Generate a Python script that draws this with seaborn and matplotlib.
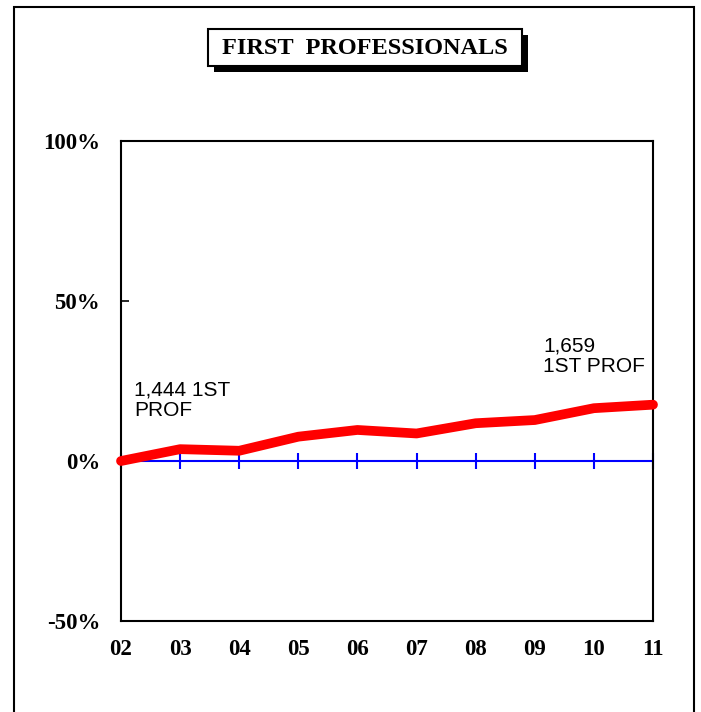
import matplotlib
matplotlib.use("Agg")
import matplotlib.pyplot as plt
import seaborn as sns
from matplotlib.patches import Rectangle

# data
years = ["02", "03", "04", "05", "06", "07", "08", "09", "10", "11"]
pct_change = [0.0, 3.7, 3.2, 7.6, 9.7, 8.6, 11.8, 12.8, 16.5, 17.6]
y_ticks = [-50, 0, 50, 100]
y_labels = ["-50%", "0%", "50%", "100%"]
start_note = "1,444 1ST\nPROF"
end_note = "1,659\n1ST PROF"
title = "FIRST  PROFESSIONALS"

sns.set_theme(style="white")
plt.rcParams["font.family"] = ["Liberation Serif", "DejaVu Serif"]
plt.rcParams.update({"text.color": "black", "xtick.color": "black",
                     "ytick.color": "black", "axes.labelcolor": "black"})

W, H = 701, 712
fig = plt.figure(figsize=(W / 100, H / 100), dpi=100)
ax = fig.add_axes([121 / W, 1 - 621 / H, (653 - 121) / W, (621 - 141) / H])

xpos = list(range(len(years)))

# zero line with blue crossing ticks
ax.axhline(0, color="#0000ff", lw=1.5, zorder=2)
ax.plot(xpos, [0] * len(xpos), linestyle="none", marker="|", ms=11,
        mew=1.5, color="#0000ff", zorder=2, clip_on=False)

sns.lineplot(x=xpos, y=pct_change, ax=ax, color="#ff0000", lw=7,
             zorder=3, clip_on=False)

ax.set_xlim(0, len(years) - 1)
ax.set_ylim(-50, 100)
ax.set_xticks(xpos)
ax.set_xticklabels(years, fontsize=16.5, fontweight="bold")
ax.set_yticks(y_ticks)
ax.set_yticklabels(y_labels, fontsize=16.5, fontweight="bold")
ax.tick_params(axis="x", length=0, pad=13)
ax.tick_params(axis="y", direction="in", length=6, width=1.2, pad=15, left=True)
for s in ax.spines.values():
    s.set_color("black")
    s.set_linewidth(1.5)
ax.grid(False)

ax.text(0.22, 25, start_note, fontsize=15, family="Liberation Sans",
        va="top", ha="left", linespacing=1.1)
ax.text(7.14, 38.8, end_note, fontsize=15, family="Liberation Sans",
        va="top", ha="left", linespacing=1.1)

# outer frame
fig.patches.append(Rectangle((14 / W, -0.1), (694 - 14) / W, 1.1 - 7 / H,
                             transform=fig.transFigure, fill=False,
                             edgecolor="black", lw=1.5))

# title box with shadow
bx0, bx1, by0, by1 = 208, 522, 29, 66
fig.patches.append(Rectangle(((bx0 + 6) / W, 1 - (by1 + 6) / H), (bx1 - bx0) / W,
                             (by1 - by0) / H, transform=fig.transFigure,
                             facecolor="black", edgecolor="black", lw=0))
fig.patches.append(Rectangle((bx0 / W, 1 - by1 / H), (bx1 - bx0) / W,
                             (by1 - by0) / H, transform=fig.transFigure,
                             facecolor="white", edgecolor="black", lw=1.5))
fig.text((bx0 + bx1) / 2 / W, 1 - 48 / H, title, ha="center", va="center",
         fontsize=17.5, fontweight="bold")

fig.savefig("out.png", dpi=100)
